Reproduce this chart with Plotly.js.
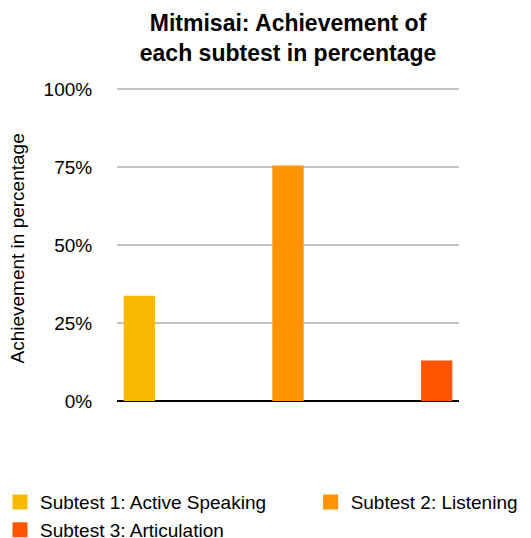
<!DOCTYPE html>
<html><head><meta charset="utf-8">
<script src="https://cdn.plot.ly/plotly-3.0.1.min.js"></script>
<style>body{margin:0;padding:0;}#c{width:531px;height:538px;}</style>
</head><body><div id="c"></div>
<script>
const names = ["Subtest 1: Active Speaking", "Subtest 2: Listening", "Subtest 3: Articulation"];
const values = [33.3, 75, 12.5];
const colors = ["#F9B900", "#FF9300", "#FF5500"];
const positions = [0, 1, 2];
const legendGroups = ["legend", "legend2", "legend"];
const yTicks = [0, 25, 50, 75, 100];
const yTickText = ["0%", "25%", "50%", "75%", "100%"];
const yTitle = "Achievement in percentage";

const font = "Liberation Sans, Arial, Helvetica, sans-serif";
const traces = names.map((n, i) => ({
  type: "bar", name: n, x: [positions[i]], y: [values[i]], legend: legendGroups[i],
  width: 0.19, marker: {color: colors[i], line: {color: colors[i], width: 3}}, hoverinfo: "skip"
}));
const legendBase = {orientation: "v", xref: "container", yref: "container", yanchor: "top", xanchor: "left",
  font: {size: 19}, traceorder: "normal", tracegroupgap: 0, bgcolor: "rgba(0,0,0,0)"};
const layout = {
  width: 531, height: 538,
  margin: {l: 117, r: 72, t: 86, b: 137, autoexpand: false},
  paper_bgcolor: "#fff", plot_bgcolor: "#fff",
  font: {family: font, size: 19, color: "#000"},
  title: {text: "<b>Mitmisai: Achievement of<br>each subtest in percentage</b>", x: 0.5425, xanchor: "center", y: 0.943, yanchor: "top", font: {size: 23, family: font}},
  barmode: "overlay",
  showlegend: true,
  legend: Object.assign({}, legendBase, {x: 0, y: 0.102}),
  legend2: Object.assign({}, legendBase, {x: 0.585, y: 0.102}),
  xaxis: {range: [-0.15, 2.15], showticklabels: false, showgrid: false, zeroline: false, ticks: "", fixedrange: true},
  yaxis: {range: [0, 101], tickvals: yTicks, ticktext: yTickText, showgrid: true, gridcolor: "#c4c4c4", gridwidth: 1.5,
    zeroline: true, zerolinecolor: "#000", zerolinewidth: 2, ticks: "outside", ticklen: 20, tickcolor: "rgba(0,0,0,0)",
    fixedrange: true},
  annotations: [{text: yTitle, xref: "paper", yref: "paper", x: -0.2895, y: 0.484, xanchor: "center", yanchor: "middle",
    textangle: -90, showarrow: false, font: {size: 19, family: font, color: "#000"}}]
};
Plotly.newPlot("c", traces, layout, {displayModeBar: false, staticPlot: true});
</script></body></html>
